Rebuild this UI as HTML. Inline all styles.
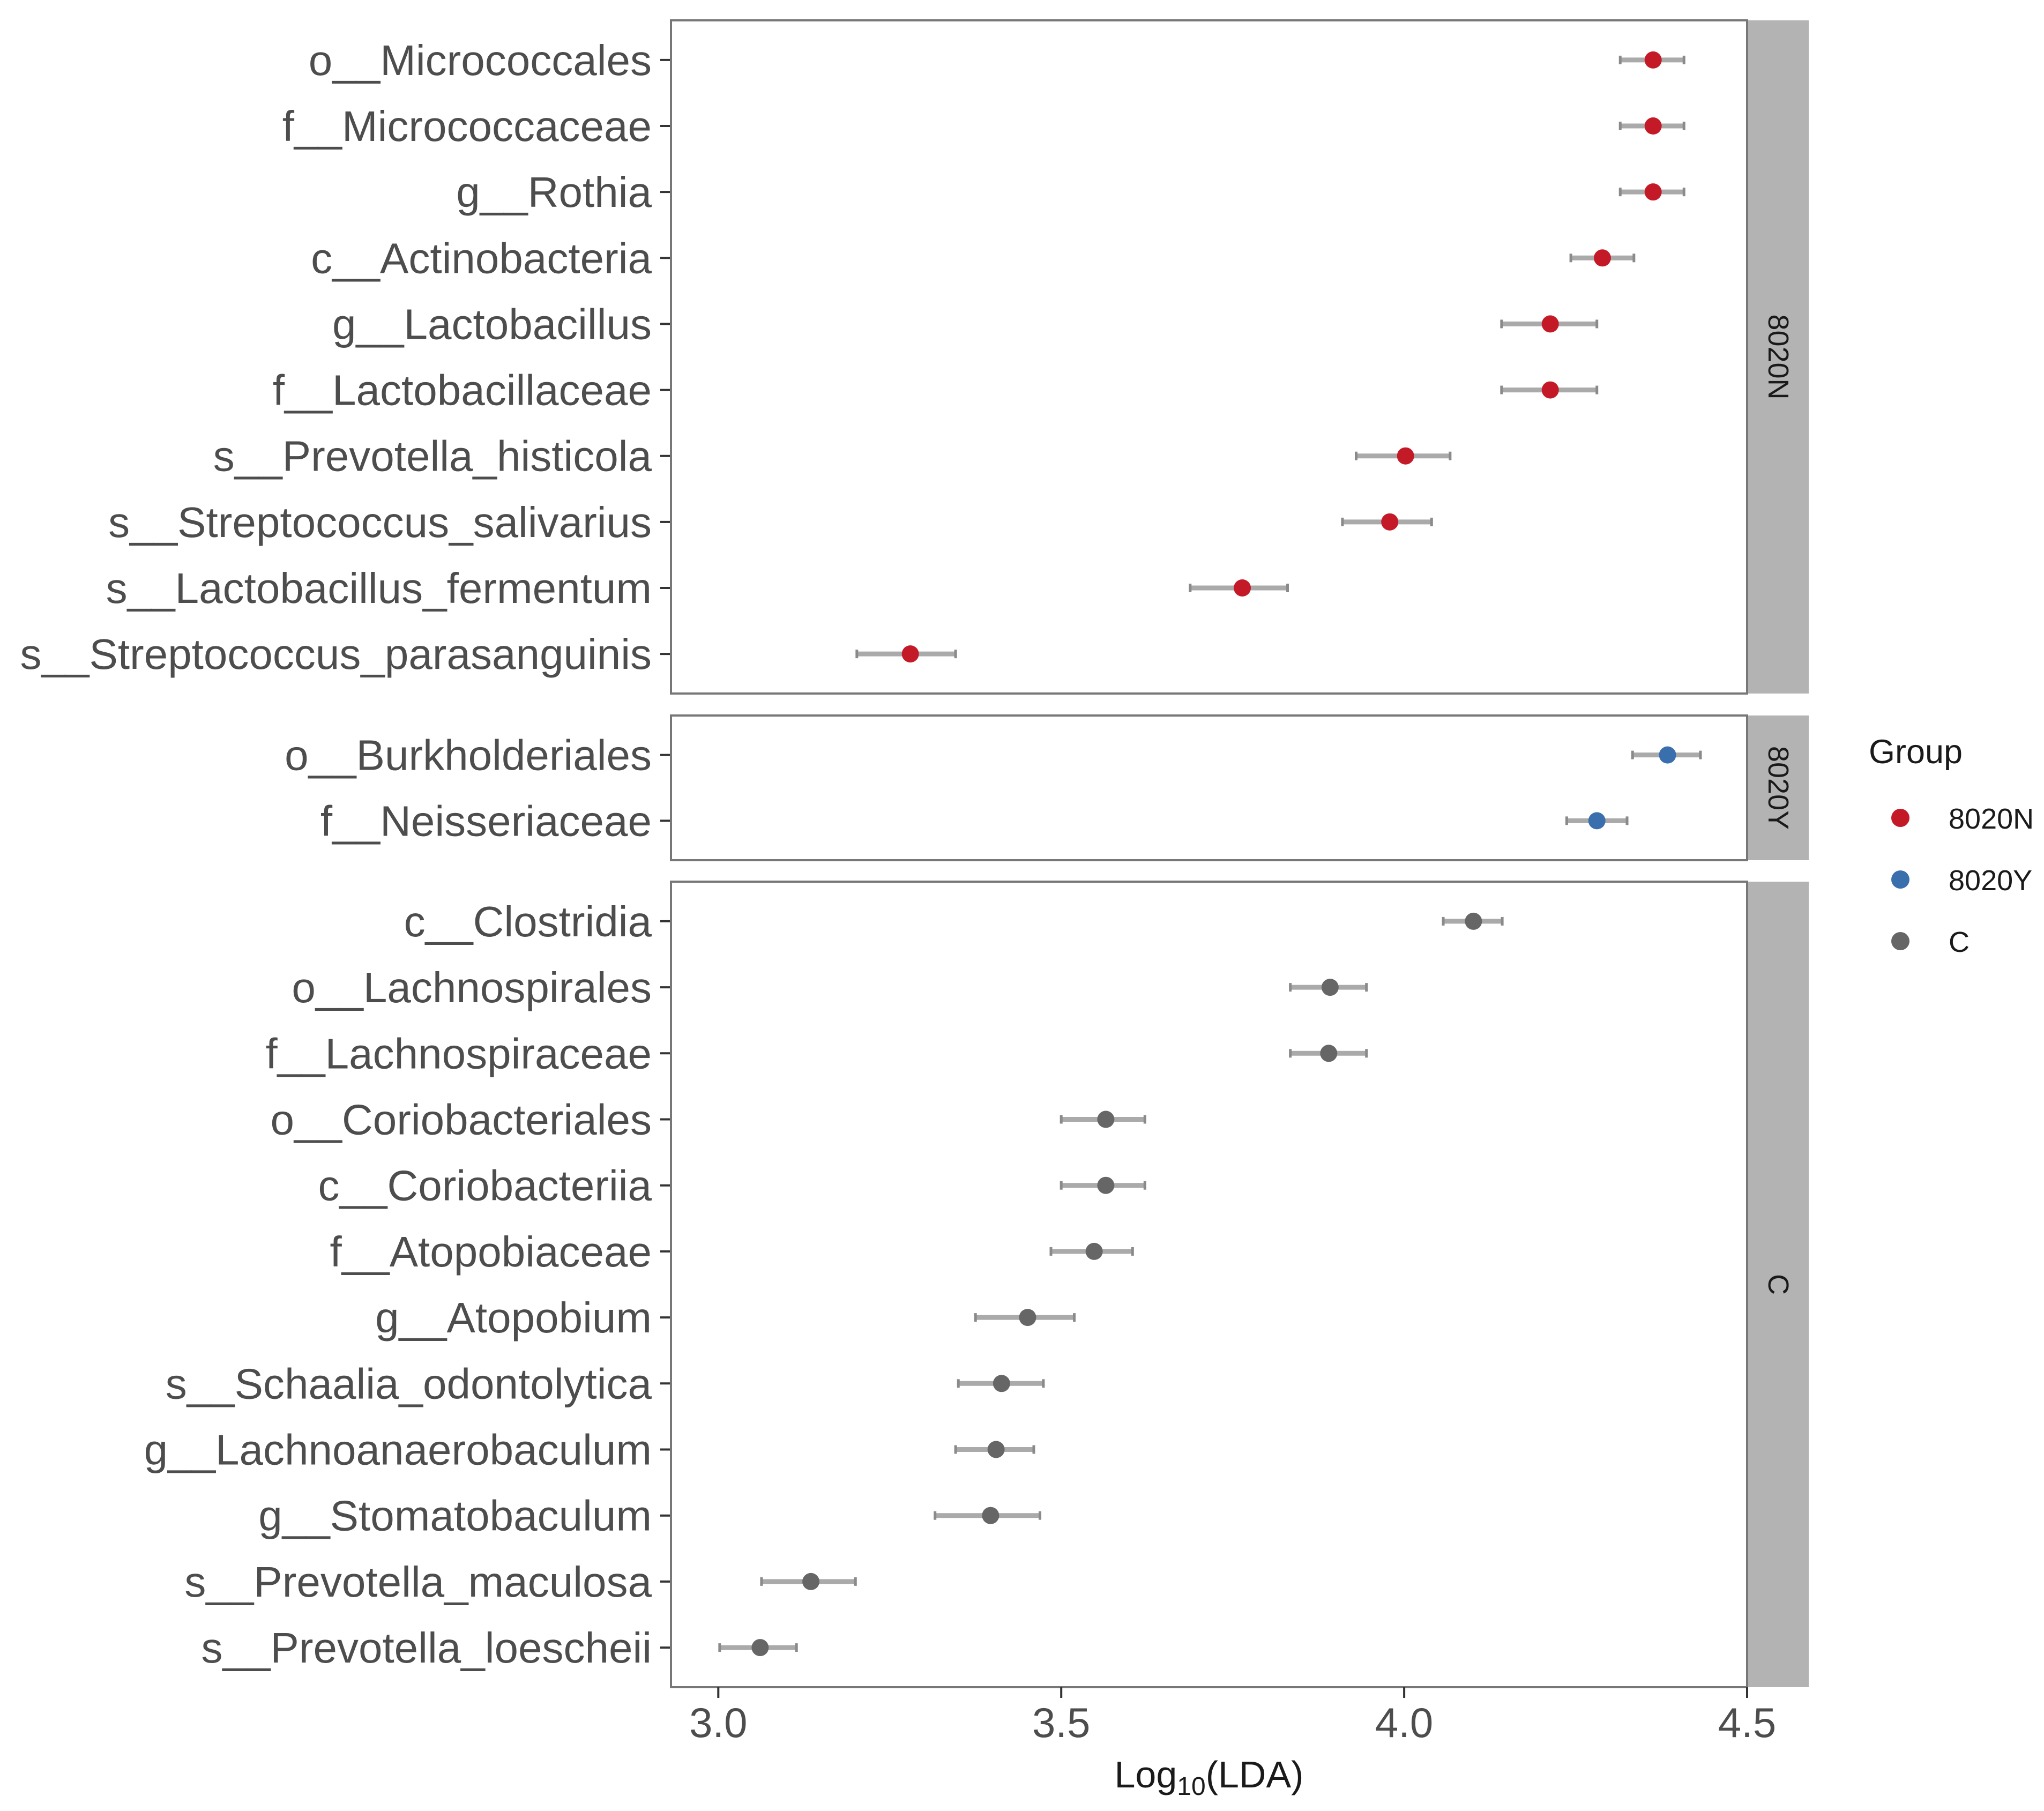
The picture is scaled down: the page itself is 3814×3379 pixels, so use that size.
<!DOCTYPE html>
<html><head><meta charset="utf-8"><style>
html,body{margin:0;padding:0;background:#fff;}
svg text{font-family:"Liberation Sans",Arial,sans-serif;}
</style></head>
<body>
<svg id="chart" width="3814" height="3374" viewBox="0 0 3814 3374" xmlns="http://www.w3.org/2000/svg">
<rect width="3814" height="3374" fill="#fff"/>
<g id="layer"></g>
</svg>
<script>
const labels8020N = ["o__Micrococcales","f__Micrococcaceae","g__Rothia","c__Actinobacteria","g__Lactobacillus","f__Lactobacillaceae","s__Prevotella_histicola","s__Streptococcus_salivarius","s__Lactobacillus_fermentum","s__Streptococcus_parasanguinis"];
const lda8020N = [4.363,4.363,4.363,4.289,4.213,4.213,4.002,3.979,3.764,3.280];
const lo8020N  = [4.315,4.315,4.315,4.243,4.142,4.142,3.930,3.910,3.688,3.202];
const hi8020N  = [4.408,4.408,4.408,4.335,4.281,4.281,4.067,4.040,3.830,3.346];
const labels8020Y = ["o__Burkholderiales","f__Neisseriaceae"];
const lda8020Y = [4.384,4.281];
const lo8020Y  = [4.333,4.237];
const hi8020Y  = [4.432,4.325];
const labelsC = ["c__Clostridia","o__Lachnospirales","f__Lachnospiraceae","o__Coriobacteriales","c__Coriobacteriia","f__Atopobiaceae","g__Atopobium","s__Schaalia_odontolytica","g__Lachnoanaerobaculum","g__Stomatobaculum","s__Prevotella_maculosa","s__Prevotella_loescheii"];
const ldaC = [4.101,3.892,3.890,3.565,3.565,3.548,3.451,3.413,3.405,3.397,3.135,3.061];
const loC  = [4.057,3.834,3.834,3.500,3.500,3.485,3.375,3.350,3.346,3.316,3.063,3.002];
const hiC  = [4.143,3.945,3.945,3.622,3.622,3.604,3.519,3.474,3.460,3.469,3.200,3.114];
const xTicks = [3.0,3.5,4.0,4.5];
const xTickLabels = ["3.0","3.5","4.0","4.5"];
const groups = ["8020N","8020Y","C"];

const NS="http://www.w3.org/2000/svg";
const layer=document.getElementById('layer');
const PL=1252, PR=3260, XMIN=2.931, XMAX=4.5;
function xs(v){return PL+(v-XMIN)/(XMAX-XMIN)*(PR-PL);}
function mk(tag,attrs,parent){const e=document.createElementNS(NS,tag);for(const k in attrs)e.setAttribute(k,attrs[k]);(parent||layer).appendChild(e);return e;}
const colors={"8020N":"#c41a28","8020Y":"#3a6fae","C":"#666666"};
const panels=[
 {g:"8020N",top:38,bot:1294,labels:labels8020N,v:lda8020N,lo:lo8020N,hi:hi8020N},
 {g:"8020Y",top:1335,bot:1605,labels:labels8020Y,v:lda8020Y,lo:lo8020Y,hi:hi8020Y},
 {g:"C",top:1645,bot:3148,labels:labelsC,v:ldaC,lo:loC,hi:hiC}
];
panels.forEach(p=>{
  const n=p.labels.length;
  const step=(p.bot-p.top)/(n+0.2);
  const bg=mk('rect',{x:PL,y:p.top,width:PR-PL,height:p.bot-p.top,fill:'#fff'});
  
  
  for(let i=0;i<n;i++){
    const y=p.top+step*(0.6+i);
    const tk=mk('line',{x1:PL-20,x2:PL,y1:y,y2:y,stroke:'#333',"stroke-width":4});
    
    
    const t=mk('text',{x:PL-36,y:y+28,"text-anchor":"end","font-size":80,fill:'#4d4d4d'});
    t.textContent=p.labels[i];
    
    
    const eb=mk('line',{x1:xs(p.lo[i]),x2:xs(p.hi[i]),y1:y,y2:y,stroke:'#aaaaaa',"stroke-width":9});
    
    
    [p.lo[i],p.hi[i]].forEach(v=>{
      const c=mk('line',{x1:xs(v),x2:xs(v),y1:y-8,y2:y+8,stroke:'#8a8a8a',"stroke-width":5});
      
      
    });
    const pt=mk('circle',{cx:xs(p.v[i]),cy:y,r:16,fill:colors[p.g]});
    
    
  }
  const br=mk('rect',{x:PL,y:p.top,width:PR-PL,height:p.bot-p.top,fill:'none',stroke:'#777',"stroke-width":4});
  
  
  const st=mk('rect',{x:PR+2,y:p.top,width:113,height:p.bot-p.top,fill:'#b3b3b3'});
  
  
  const cy=(p.top+p.bot)/2, cx=PR+58;
  const sl=mk('text',{x:cx,y:cy,"text-anchor":"middle","dominant-baseline":"central","font-size":54,fill:'#1a1a1a',transform:`rotate(90 ${cx} ${cy})`});
  sl.textContent=p.g;
  
  
});
xTicks.forEach((v,i)=>{
  const x=xs(v);
  const tk=mk('line',{x1:x,x2:x,y1:3148,y2:3168,stroke:'#333',"stroke-width":4});
  
  
  const t=mk('text',{x:x,y:3241,"text-anchor":"middle","font-size":78,fill:'#4d4d4d'});
  t.textContent=xTickLabels[i];
  
  
});
const xt=mk('text',{x:2256,y:3335,"text-anchor":"middle","font-size":70,fill:'#1a1a1a'});


xt.innerHTML='Log<tspan font-size="48" dy="14">10</tspan><tspan dy="-14">(LDA)</tspan>';
const lt=mk('text',{x:3487,y:1424,"font-size":63,fill:'#1a1a1a'});
lt.textContent='Group';


groups.forEach((g,i)=>{
  const y=1526+i*115;
  const d=mk('circle',{cx:3546,cy:y,r:17,fill:colors[g]});
  
  
  const t=mk('text',{x:3636,y:y+20,"font-size":54,fill:'#1a1a1a'});
  t.textContent=g;
  
  
});
</script>
</body></html>
